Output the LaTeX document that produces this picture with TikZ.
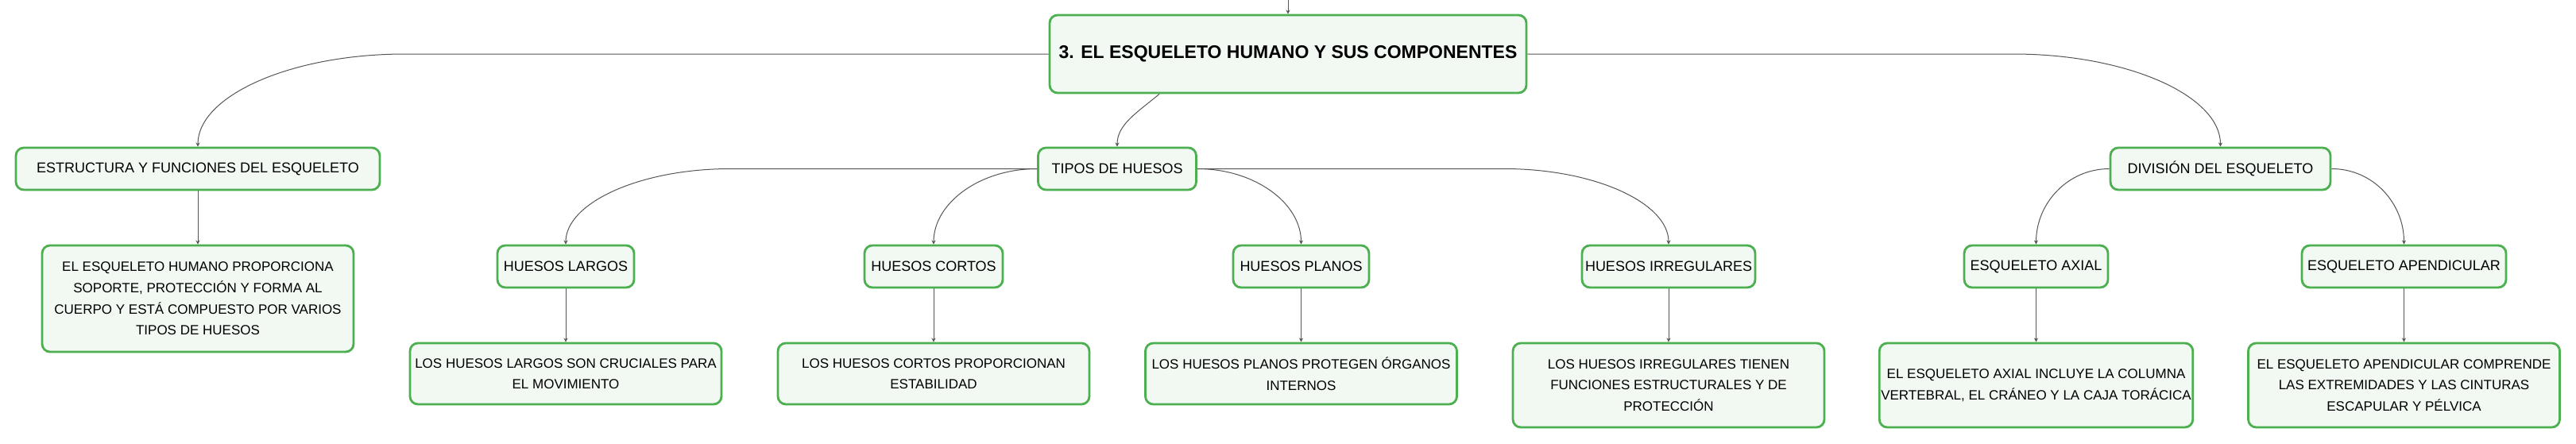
\documentclass[tikz,border=0pt]{standalone}
\usepackage{fontspec}
\setmainfont{Liberation Sans}
\usetikzlibrary{positioning,arrows.meta,calc}
\definecolor{bonegreen}{HTML}{4CAF50}
\definecolor{bonefill}{HTML}{F1F9F2}
\definecolor{linkgray}{HTML}{555555}

\begin{document}
\begin{tikzpicture}[
    box/.style={draw=bonegreen, fill=bonefill, line width=1.4pt, rounded corners=5pt, align=center},
    titlebox/.style={box, minimum width=300pt, minimum height=49pt, font=\fontsize{11.5}{14}\selectfont\bfseries},
    headbox/.style={box, minimum height=26.5pt, inner xsep=2pt, font=\fontsize{9}{11}\selectfont},
    notebox/.style={box, minimum width=196pt, inner xsep=1pt, font=\fontsize{8.5}{13.35}\selectfont},
    link/.style={draw=linkgray, line width=0.5pt, -{Stealth[length=2.6pt,width=2.6pt]}}
  ]
  \useasboundingbox (0pt,0pt) rectangle (1621pt,-279pt);

  \node[titlebox] (main) at (810.5pt,-34pt) {3. EL ESQUELETO HUMANO Y SUS COMPONENTES};
  \coordinate (up) at (810.5pt,0pt);

  \node[headbox, minimum width=229pt] (estr) at (124.5pt,-106.25pt) {ESTRUCTURA Y FUNCIONES DEL ESQUELETO};
  \node[headbox, minimum width=99.5pt] (tipos) at (703pt,-106.25pt) {TIPOS DE HUESOS};
  \node[headbox, minimum width=138.5pt] (div) at (1397.25pt,-106.25pt) {DIVISIÓN DEL ESQUELETO};

  \node[notebox, minimum height=67pt] (estrdesc) at (124.5pt,-188pt)
    {EL ESQUELETO HUMANO PROPORCIONA\\SOPORTE, PROTECCIÓN Y FORMA AL\\CUERPO Y ESTÁ COMPUESTO POR VARIOS\\TIPOS DE HUESOS};

  \node[headbox, minimum width=86pt] (largos) at (356pt,-167.75pt) {HUESOS LARGOS};
  \node[headbox, minimum width=87pt] (cortos) at (587.5pt,-167.75pt) {HUESOS CORTOS};
  \node[headbox, minimum width=85.5pt] (planos) at (818.75pt,-167.75pt) {HUESOS PLANOS};
  \node[headbox, minimum width=109pt] (irreg) at (1050pt,-167.75pt) {HUESOS IRREGULARES};
  \node[headbox, minimum width=90.5pt] (axial) at (1281.25pt,-167.75pt) {ESQUELETO AXIAL};
  \node[headbox, minimum width=128.5pt] (apend) at (1512.75pt,-167.75pt) {ESQUELETO APENDICULAR};

  \node[notebox, minimum height=38.5pt] (largosdesc) at (356pt,-235.25pt)
    {LOS HUESOS LARGOS SON CRUCIALES PARA\\EL MOVIMIENTO};
  \node[notebox, minimum height=38.5pt] (cortosdesc) at (587.5pt,-235.25pt)
    {LOS HUESOS CORTOS PROPORCIONAN\\ESTABILIDAD};
  \node[notebox, minimum height=38.5pt] (planosdesc) at (818.75pt,-235.25pt)
    {LOS HUESOS PLANOS PROTEGEN ÓRGANOS\\INTERNOS};
  \node[notebox, minimum height=53pt] (irregdesc) at (1050pt,-242.5pt)
    {LOS HUESOS IRREGULARES TIENEN\\FUNCIONES ESTRUCTURALES Y DE\\PROTECCIÓN};
  \node[notebox, minimum height=53pt] (axialdesc) at (1281.25pt,-242.5pt)
    {EL ESQUELETO AXIAL INCLUYE LA COLUMNA\\VERTEBRAL, EL CRÁNEO Y LA CAJA TORÁCICA};
  \node[notebox, minimum height=53pt] (apenddesc) at (1512.75pt,-242.5pt)
    {EL ESQUELETO APENDICULAR COMPRENDE\\LAS EXTREMIDADES Y LAS CINTURAS\\ESCAPULAR Y PÉLVICA};

  \draw[link] (up) -- (main);
  \draw[link] (main.west) -- ($(estr.north|-main.west)+(130.5pt,0)$)
    to[out=180,in=90,out distance=72pt,in distance=32pt] (estr.north);
  \draw[link] (main.east) -- ($(div.north|-main.east)+(-130.5pt,0)$)
    to[out=0,in=90,out distance=72pt,in distance=32pt] (div.north);
  \draw[link] ([xshift=-81pt]main.south) to[out=-140,in=90,out distance=18pt,in distance=14pt] (tipos.north);

  \draw[link] (tipos.west) -- ($(largos.north|-tipos.west)+(103.5pt,0)$)
    to[out=180,in=90,out distance=57pt,in distance=26pt] (largos.north);
  \draw[link] (tipos.west) to[out=180,in=90,out distance=36pt,in distance=26pt] (cortos.north);
  \draw[link] (tipos.east) to[out=0,in=90,out distance=36pt,in distance=26pt] (planos.north);
  \draw[link] (tipos.east) -- ($(irreg.north|-tipos.east)+(-103.5pt,0)$)
    to[out=0,in=90,out distance=57pt,in distance=26pt] (irreg.north);
  \draw[link] (div.west) to[out=180,in=90,out distance=26pt,in distance=26pt] (axial.north);
  \draw[link] (div.east) to[out=0,in=90,out distance=26pt,in distance=26pt] (apend.north);

  \foreach \a/\b in {estr/estrdesc, largos/largosdesc, cortos/cortosdesc, planos/planosdesc,
                     irreg/irregdesc, axial/axialdesc, apend/apenddesc}
    \draw[link] (\a) -- (\b);
\end{tikzpicture}
\end{document}
